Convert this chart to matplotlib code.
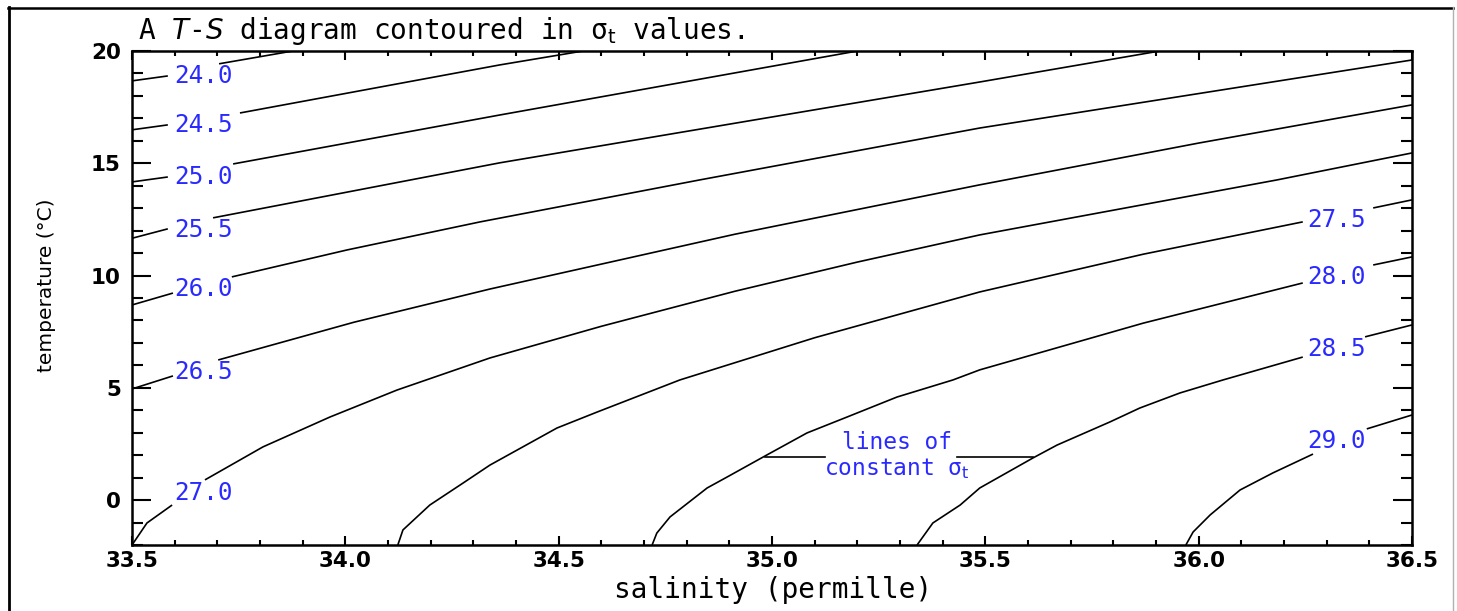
import matplotlib
matplotlib.use("Agg")
import matplotlib.pyplot as plt
from matplotlib.lines import Line2D
from matplotlib.ticker import MultipleLocator

# ---------------- data ----------------
levels = [24.0, 24.5, 25.0, 25.5, 26.0, 26.5, 27.0, 27.5, 28.0, 28.5, 29.0]
level_labels = ["24.0", "24.5", "25.0", "25.5", "26.0", "26.5", "27.0",
                "27.5", "28.0", "28.5", "29.0"]

S_240 = [33.500, 33.584, 33.704, 33.877]
T_240 = [18.67, 18.89, 19.43, 20.00]
S_245 = [33.500, 33.584, 33.753, 34.362, 34.557]
T_245 = [16.49, 16.71, 17.24, 19.38, 20.00]
S_250 = [33.500, 33.584, 33.737, 34.362, 35.200]
T_250 = [14.17, 14.39, 14.97, 17.15, 20.00]
S_255 = [33.500, 33.584, 33.690, 34.362, 35.487, 35.909]
T_255 = [11.66, 12.08, 12.57, 15.02, 18.62, 20.00]
S_260 = [33.500, 33.596, 33.734, 34.004, 34.316, 34.831, 35.487, 36.500]
T_260 = [8.69, 9.22, 9.94, 11.14, 12.39, 14.26, 16.57, 19.60]
S_265 = [33.500, 33.596, 33.702, 34.020, 34.339, 34.913, 35.487, 36.000, 36.500]
T_265 = [4.95, 5.53, 6.24, 7.92, 9.40, 11.84, 14.04, 15.90, 17.60]
S_270 = [33.500, 33.535, 33.594, 33.671, 33.807, 33.964, 34.121, 34.339,
         34.600, 34.913, 35.200, 35.487, 36.184, 36.500]
T_270 = [-2.00, -1.02, -0.22, 0.90, 2.37, 3.70, 4.90, 6.33, 7.74, 9.30, 10.60,
         11.81, 14.26, 15.46]
S_275 = [34.123, 34.135, 34.198, 34.276, 34.339, 34.496, 34.590, 34.784,
         35.100, 35.487, 35.870, 36.244, 36.409, 36.500]
T_275 = [-2.00, -1.33, -0.22, 0.76, 1.56, 3.21, 3.92, 5.35, 7.23, 9.27, 10.95,
         12.39, 13.01, 13.37]
S_280 = [34.719, 34.730, 34.761, 34.848, 34.895, 34.988, 35.082, 35.176,
         35.293, 35.424, 35.487, 35.870, 36.244, 36.409, 36.500]
T_280 = [-2.00, -1.47, -0.75, 0.54, 1.03, 2.01, 2.99, 3.70, 4.59, 5.35,
         5.80, 7.88, 9.67, 10.47, 10.83]
S_285 = [35.340, 35.377, 35.441, 35.487, 35.612, 35.668, 35.792, 35.862,
         35.956, 36.057, 36.244, 36.390, 36.500]
T_285 = [-2.00, -1.02, -0.22, 0.54, 1.88, 2.45, 3.48, 4.10, 4.77, 5.35,
         6.37, 7.27, 7.80]
S_290 = [35.970, 35.987, 36.027, 36.097, 36.174, 36.268, 36.394, 36.500]
T_290 = [-2.00, -1.42, -0.66, 0.45, 1.21, 2.05, 3.17, 3.79]

contour_S = [S_240, S_245, S_250, S_255, S_260, S_265, S_270, S_275, S_280, S_285, S_290]
contour_T = [T_240, T_245, T_250, T_255, T_260, T_265, T_270, T_275, T_280, T_285, T_290]

x_ticks = [33.5, 34.0, 34.5, 35.0, 35.5, 36.0, 36.5]
x_ticklabels = ["33.5", "34.0", "34.5", "35.0", "35.5", "36.0", "36.5"]
y_ticks = [0, 5, 10, 15, 20]
y_ticklabels = ["0", "5", "10", "15", "20"]

# ---------------- layout / style ----------------
gap_after = [1, 1, 1, 1, 1, 1, 2, 11, 12, 10, 5]     # index where label gap starts
label_side = ["L", "L", "L", "L", "L", "L", "L", "R", "R", "R", "R"]
label_T = [18.89, 16.71, 14.39, 12.03, 9.40, 5.71, 0.32, 12.48, 9.94, 6.73, 2.63]
LABEL_S_LEFT = 33.60
LABEL_S_RIGHT = 36.255
BLUE = "#2a2aff"
MONO = "DejaVu Sans Mono"

W, H = 1457, 611
fig = plt.figure(figsize=(W / 100, H / 100), dpi=100)
fig.patch.set_facecolor("white")
ax = fig.add_axes([132 / W, 1 - 545 / H, (1412 - 132) / W, (545 - 51) / H])

for S, T, g in zip(contour_S, contour_T, gap_after):
    ax.plot(S[:g + 1], T[:g + 1], color="black", lw=1.2, solid_capstyle="butt")
    ax.plot(S[g + 1:], T[g + 1:], color="black", lw=1.2, solid_capstyle="butt")

for lab, side, ty in zip(level_labels, label_side, label_T):
    sx = LABEL_S_LEFT if side == "L" else LABEL_S_RIGHT
    ax.text(sx, ty, lab, color=BLUE, fontsize=17.5, family=MONO,
            ha="left", va="center")

# annotation "lines of constant sigma_t"
ax.text(35.293, 1.95, "lines of\nconstant σ$_\\mathrm{t}$", color=BLUE,
        fontsize=16.5, family=MONO, ha="center", va="center",
        linespacing=1.1)
ax.plot([34.984, 35.124], [1.92, 1.92], color="black", lw=1.2)
ax.plot([35.434, 35.612], [1.92, 1.92], color="black", lw=1.2)

ax.set_xlim(33.5, 36.5)
ax.set_ylim(-2, 20)
ax.set_xticks(x_ticks)
ax.set_xticklabels(x_ticklabels, fontsize=15.5, fontweight="bold")
ax.set_yticks(y_ticks)
ax.set_yticklabels(y_ticklabels, fontsize=15.5, fontweight="bold")
ax.xaxis.set_minor_locator(MultipleLocator(0.1))
ax.yaxis.set_minor_locator(MultipleLocator(1))
ax.tick_params(axis="x", which="both", direction="in", top=True, bottom=True,
               width=1.5, pad=4)
ax.tick_params(axis="x", which="major", length=6.5)
ax.tick_params(axis="x", which="minor", length=3.8)
ax.tick_params(axis="y", which="both", direction="in", left=True, right=True,
               width=1.5, pad=8)
ax.tick_params(axis="y", which="major", length=14)
ax.tick_params(axis="y", which="minor", length=8)
for sp in ax.spines.values():
    sp.set_linewidth(1.8)

ax.set_xlabel("salinity (permille)", fontsize=20, family=MONO)
ax.xaxis.label.set_va("center")
ax.set_ylabel("temperature (°C)", fontsize=14.5, family="DejaVu Sans")
ax.yaxis.label.set_va("center")
ax.xaxis.set_label_coords((773 - 132) / (1412 - 132), -(590 - 545) / (545 - 51))
ax.yaxis.set_label_coords(-(132 - 47) / (1412 - 132), (545 - 285) / (545 - 51))

fig.text(138 / W, 1 - 31 / H,
         "A $\\mathit{T}$-$\\mathit{S}$ diagram contoured in σ$_\\mathrm{t}$ values.",
         fontsize=20, family=MONO, ha="left", va="center")

# outer frame of the original picture
fig.add_artist(Line2D([8.5 / W, 8.5 / W], [0, 1 - 7 / H], transform=fig.transFigure,
                      color="black", lw=2))
fig.add_artist(Line2D([8 / W, 1453 / W], [1 - 7.5 / H, 1 - 7.5 / H],
                      transform=fig.transFigure, color="black", lw=1.8))
fig.add_artist(Line2D([1453 / W, 1453 / W], [0, 1 - 7 / H], transform=fig.transFigure,
                      color="#b0b0b0", lw=1))

fig.savefig("out.png", dpi=100)
